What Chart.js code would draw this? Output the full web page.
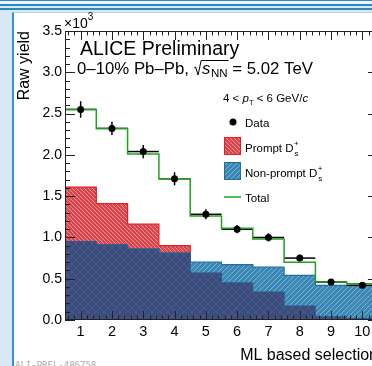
<!DOCTYPE html>
<html>
<head>
<meta charset="utf-8">
<script src="https://cdn.jsdelivr.net/npm/chart.js@4.4.1/dist/chart.umd.min.js"></script>
<style>
  html, body { margin: 0; padding: 0; width: 372px; height: 366px; overflow: hidden; background: #d9e9f3; }
  #stripes { position: absolute; left: 0; top: 0; width: 372px; height: 12px;
    background: linear-gradient(to bottom,
      #2a86c4 0px, #2a86c4 1.5px, #eef5fa 1.5px, #eef5fa 4px,
      #2a86c4 4px, #2a86c4 6px, #d9e9f3 6px, #d9e9f3 8px,
      #2a86c4 8px, #2a86c4 10.5px, #d9e9f3 10.5px); }
  #panel { position: absolute; left: 12px; top: 12px; width: 400px; height: 400px; background: #fff;
    border-left: 2px solid #3a8fd0; border-top: 1px solid #b9d3e6; }
  #chartBox { position: absolute; left: 0; top: 0; }
  #tag { position: absolute; left: 15px; top: 360px; font: 9px "DejaVu Sans Mono", monospace; color: #aaa; }
</style>
</head>
<body>
<div id="stripes"></div>
<div id="panel"></div>
<div id="tag">ALI-PREL-486758</div>
<div id="chartBox"><canvas id="rawYield" width="392" height="366" style="width:392px;height:366px"></canvas></div>
<script>
// bins of the ML selection (bin centres) and their labels
const binCenters = [1, 2, 3, 4, 5, 6, 7, 8, 9, 10];
const xTickLabels = ['1', '2', '3', '4', '5', '6', '7', '8', '9', '10'];

// raw yields in units of 10^3
const dataYield = [2.55, 2.32, 2.04, 1.71, 1.28, 1.10, 1.00, 0.75, 0.46, 0.42];
const dataError = [0.10, 0.08, 0.08, 0.08, 0.06, 0.05, 0.05, 0.04, 0.03, 0.03];
const promptYield = [1.61, 1.41, 1.16, 0.90, 0.57, 0.45, 0.34, 0.17, 0.04, 0.02];
const nonPromptYield = [0.95, 0.91, 0.86, 0.81, 0.70, 0.67, 0.64, 0.54, 0.42, 0.42];
const totalYield = [2.55, 2.32, 2.01, 1.71, 1.26, 1.11, 0.98, 0.70, 0.46, 0.44];

const FONT = '"Liberation Sans", Arial, sans-serif';

// histogram steps: one point per left bin edge plus the last right edge
function steps(vals) {
    const pts = vals.map((v, i) => ({ x: binCenters[i] - 0.5, y: v }));
    pts.push({ x: binCenters[binCenters.length - 1] + 0.5, y: vals[vals.length - 1] });
    return pts;
}

// small hatch pattern like the ROOT fill styles
function hatch(base, stroke, dir, size) {
    const c = document.createElement('canvas');
    c.width = size; c.height = size;
    const g = c.getContext('2d');
    g.fillStyle = base;
    g.fillRect(0, 0, size, size);
    g.strokeStyle = stroke;
    g.lineWidth = 1;
    g.beginPath();
    for (const o of [-size, 0, size]) {
        if (dir.includes('/')) { g.moveTo(o, size); g.lineTo(o + size, 0); }
        if (dir.includes('\\')) { g.moveTo(o, 0); g.lineTo(o + size, size); }
    }
    g.stroke();
    return g.createPattern(c, 'repeat');
}

const redPattern = hatch('#d6474d', '#ec8e90', '\\', 4);
const bluePattern = hatch('#3c87b4', '#74b2d6', '/', 5);
const navyPattern = hatch('#3a4c7c', '#4a5a8a', '/\\', 8);

// part of the plot where both templates overlap
const overlapYield = promptYield.map((v, i) => Math.min(v, nonPromptYield[i]));

function line(ctx, x1, y1, x2, y2) {
    ctx.beginPath(); ctx.moveTo(x1, y1); ctx.lineTo(x2, y2); ctx.stroke();
}

function text(ctx, str, x, y, size, style) {
    ctx.font = (style || '') + ' ' + size + 'px ' + FONT;
    ctx.fillText(str, x, y);
    return x + ctx.measureText(str).width;
}

// D_s^+ with stacked sub/superscript
function dsPlus(ctx, label, x, y) {
    let end = text(ctx, label, x, y, 11.5);
    text(ctx, '+', end + 0.5, y - 6, 8);
    text(ctx, 's', end + 1, y + 4, 8);
}

const decorations = {
    id: 'decorations',
    beforeDatasetDraw(chart, args) {
        if (args.index !== 1) return;  // just before the Total line
        const { ctx, scales: { x, y } } = chart;
        ctx.save();
        ctx.strokeStyle = '#000';
        ctx.lineWidth = 1.5;
        binCenters.forEach((c, i) => {
            const py = y.getPixelForValue(dataYield[i]);
            line(ctx, x.getPixelForValue(c - 0.5), py, x.getPixelForValue(c + 0.5), py);
            const px = x.getPixelForValue(c);
            line(ctx, px, y.getPixelForValue(dataYield[i] + dataError[i]), px, y.getPixelForValue(dataYield[i] - dataError[i]));
        });
        ctx.restore();
    },
    afterDraw(chart) {
        const { ctx, chartArea: a, scales: { x, y } } = chart;
        ctx.save();
        ctx.strokeStyle = '#222';
        ctx.lineWidth = 1;
        ctx.strokeRect(a.left + 0.5, a.top + 0.5, a.right - a.left - 1, a.bottom - a.top - 1);

        // inward ticks, ROOT style
        for (let k = 0; k <= 35; k++) {
            const py = Math.round(y.getPixelForValue(k / 10)) + 0.5;
            const len = k % 5 === 0 ? 10 : 5;
            line(ctx, a.left, py, a.left + len, py);
            line(ctx, a.right, py, a.right - len, py);
        }
        for (let k = 3; k <= 52; k++) {
            const px = Math.round(x.getPixelForValue(k * 0.2)) + 0.5;
            const len = k % 5 === 0 ? 9 : 4.5;
            line(ctx, px, a.bottom, px, a.bottom - len);
            line(ctx, px, a.top, px, a.top + len);
        }

        ctx.fillStyle = '#000';
        ctx.textAlign = 'left';
        ctx.textBaseline = 'alphabetic';

        // x10^3
        let e = text(ctx, '×10', 64, 28, 14);
        text(ctx, '3', e, 20, 10);

        // axis titles
        ctx.save();
        ctx.translate(29, a.top);
        ctx.rotate(-Math.PI / 2);
        ctx.textAlign = 'right';
        text(ctx, 'Raw yield', 0, 0, 16);
        ctx.restore();
        ctx.textAlign = 'right';
        text(ctx, 'ML based selection', a.right, 360, 16);
        ctx.textAlign = 'left';

        // labels
        text(ctx, 'ALICE Preliminary', 80, 55, 19.5);
        let p = text(ctx, '0–10% Pb–Pb, ', 77, 74, 16.8);
        ctx.font = 'italic 16.8px ' + FONT;
        const sW = ctx.measureText('s').width;
        ctx.font = '11.5px ' + FONT;
        const nnW = ctx.measureText('NN').width;
        ctx.lineWidth = 1;
        ctx.strokeStyle = '#000';
        ctx.beginPath();
        ctx.moveTo(p + 0.5, 68); ctx.lineTo(p + 2, 67); ctx.lineTo(p + 4.5, 75);
        ctx.lineTo(p + 7.5, 60.5); ctx.lineTo(p + 9 + sW + nnW + 1, 60.5);
        ctx.stroke();
        p = text(ctx, 's', p + 8.5, 74, 16.8, 'italic');
        p = text(ctx, 'NN', p + 0.5, 77, 11.5);
        text(ctx, ' = 5.02 TeV', p, 74, 16.8);

        p = text(ctx, '4 < ', 223, 102, 11.5);
        p = text(ctx, 'p', p, 102, 11.5, 'italic');
        p = text(ctx, 'T', p, 105, 7.5);
        p = text(ctx, ' < 6 GeV/', p, 102, 11.5);
        text(ctx, 'c', p, 102, 11.5, 'italic');

        // legend
        ctx.beginPath();
        ctx.arc(233, 122, 3.5, 0, Math.PI * 2);
        ctx.fill();
        text(ctx, 'Data', 245, 127, 11.5);

        ctx.fillStyle = redPattern;
        ctx.fillRect(224, 137, 17, 18);
        ctx.strokeStyle = '#e41e26';
        ctx.strokeRect(224.5, 137.5, 16, 17);
        ctx.fillStyle = '#000';
        dsPlus(ctx, 'Prompt D', 245, 152);

        ctx.fillStyle = bluePattern;
        ctx.fillRect(224, 162, 17, 18);
        ctx.strokeStyle = '#1f6da3';
        ctx.strokeRect(224.5, 162.5, 16, 17);
        ctx.fillStyle = '#000';
        dsPlus(ctx, 'Non-prompt D', 245, 177);

        ctx.strokeStyle = '#1fa31f';
        ctx.lineWidth = 1.5;
        line(ctx, 224, 197, 241, 197);
        text(ctx, 'Total', 245, 202, 11.5);
        ctx.restore();
    }
};

function createChart() {
    const ctx = document.getElementById('rawYield').getContext('2d');
    return new Chart(ctx, {
        type: 'line',
        data: {
            datasets: [
                {
                    label: 'Data',
                    data: binCenters.map((c, i) => ({ x: c, y: dataYield[i] })),
                    showLine: false,
                    pointRadius: 3.5,
                    pointBackgroundColor: '#000',
                    pointBorderWidth: 0,
                    order: 0,
                },
                {
                    label: 'Total',
                    data: steps(totalYield),
                    stepped: true,
                    borderColor: '#1fa31f',
                    borderWidth: 1.5,
                    pointRadius: 0,
                    fill: false,
                    order: 1,
                },
                {
                    label: 'Overlap',
                    data: steps(overlapYield),
                    stepped: true,
                    backgroundColor: navyPattern,
                    borderColor: '#2d5a8e',
                    borderWidth: 1,
                    pointRadius: 0,
                    fill: 'origin',
                    order: 2,
                },
                {
                    label: 'Non-prompt',
                    data: steps(nonPromptYield),
                    stepped: true,
                    backgroundColor: bluePattern,
                    borderColor: '#1f6da3',
                    borderWidth: 1.2,
                    pointRadius: 0,
                    fill: 'origin',
                    order: 3,
                },
                {
                    label: 'Prompt',
                    data: steps(promptYield),
                    stepped: true,
                    backgroundColor: redPattern,
                    borderColor: '#e41e26',
                    borderWidth: 1.2,
                    pointRadius: 0,
                    fill: 'origin',
                    order: 4,
                },
            ],
        },
        options: {
            responsive: false,
            animation: false,
            devicePixelRatio: 1,
            layout: { padding: { top: 31, right: 14, left: 0, bottom: 0 } },
            plugins: { legend: { display: false }, tooltip: { enabled: false } },
            scales: {
                x: {
                    type: 'linear',
                    min: 0.5,
                    max: 10.5,
                    grid: { display: false, drawTicks: false },
                    border: { display: false },
                    ticks: {
                        autoSkip: false,
                        maxRotation: 0,
                        padding: 3,
                        color: '#000',
                        font: { family: FONT, size: 14.5 },
                        callback: v => xTickLabels[binCenters.indexOf(v)] ?? '',
                    },
                    afterBuildTicks: s => { s.ticks = binCenters.map(v => ({ value: v })); },
                    afterFit: s => { s.height = 46; },
                },
                y: {
                    min: 0,
                    max: 3.5,
                    grid: { display: false, drawTicks: false },
                    border: { display: false },
                    ticks: {
                        stepSize: 0.5,
                        padding: 3,
                        color: '#000',
                        font: { family: FONT, size: 14 },
                        callback: v => v.toFixed(1),
                    },
                    afterFit: s => { s.width = 65; },
                },
            },
        },
        plugins: [decorations],
    });
}

window.onload = createChart;
</script>
</body>
</html>
